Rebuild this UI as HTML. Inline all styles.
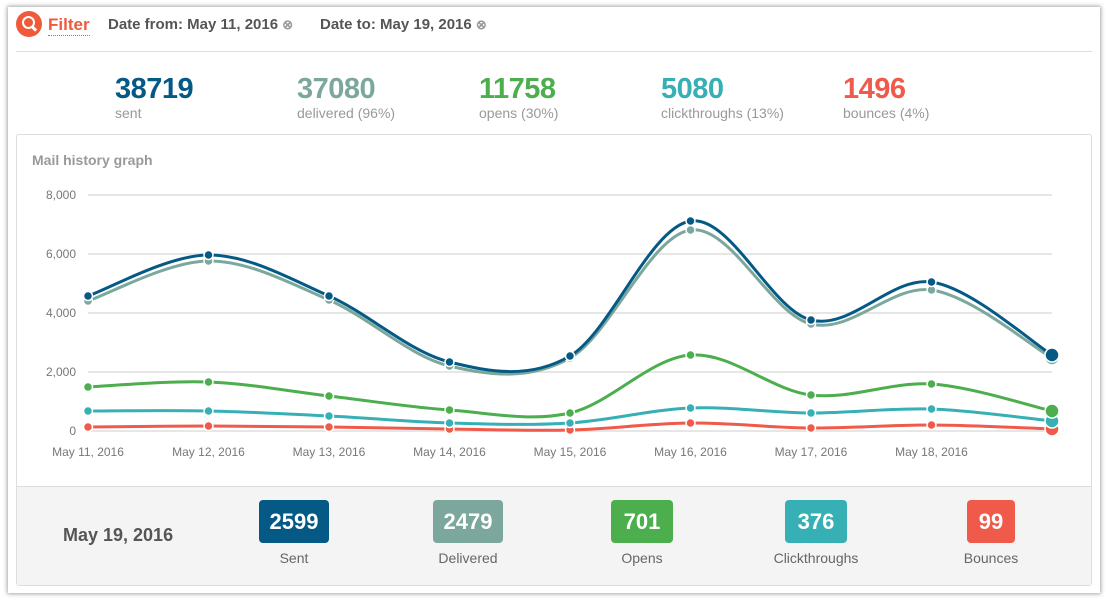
<!DOCTYPE html>
<html><head><meta charset="utf-8"><style>
body{margin:0;width:1108px;height:601px;background:#fff;font-family:"Liberation Sans",sans-serif;position:relative;overflow:hidden}
.card{position:absolute;left:8px;top:7px;width:1092px;height:586px;background:#fff;box-shadow:0 0 4px 1px rgba(0,0,0,.35)}
.abs{position:absolute;white-space:nowrap}
.num{font-size:29px;font-weight:bold;letter-spacing:-0.5px}
.lbl{font-size:14px;color:#999}
.badge{position:absolute;top:500px;width:70px;height:43px;border-radius:4px;color:#fff;font-weight:bold;font-size:22px;text-align:center;line-height:43px}
.blbl{position:absolute;top:550px;width:140px;text-align:center;font-size:14px;color:#666}
</style></head><body>
<div class="card"></div>
<div class="abs" style="left:16px;top:11px;width:26px;height:26px;border-radius:50%;background:#f05a3a"></div>
<div class="abs" style="left:22px;top:16px;width:9px;height:9px;border:2.5px solid #fff;border-radius:50%"></div>
<div class="abs" style="left:31px;top:27px;width:6px;height:3px;background:#fff;transform:rotate(45deg)"></div>
<div class="abs" style="left:48px;top:15px;font-size:17px;font-weight:bold;color:#f05a3a;border-bottom:1px dotted #f05a3a;line-height:20px">Filter</div>
<div class="abs" style="left:108px;top:16px;font-size:15px;font-weight:bold;color:#555">Date from: May 11, 2016 <span style="color:#999;font-size:13px">⊗</span></div>
<div class="abs" style="left:320px;top:16px;font-size:15px;font-weight:bold;color:#555">Date to: May 19, 2016 <span style="color:#999;font-size:13px">⊗</span></div>
<div class="abs" style="left:16px;top:51px;width:1076px;height:1px;background:#ddd"></div>

<div class="abs num" style="left:115px;top:73px;color:#045a85">38719</div>
<div class="abs lbl" style="left:115px;top:105px">sent</div>
<div class="abs num" style="left:297px;top:73px;color:#7ba79d">37080</div>
<div class="abs lbl" style="left:297px;top:105px">delivered (96%)</div>
<div class="abs num" style="left:479px;top:73px;color:#4cae4c">11758</div>
<div class="abs lbl" style="left:479px;top:105px">opens (30%)</div>
<div class="abs num" style="left:661px;top:73px;color:#36b0b4">5080</div>
<div class="abs lbl" style="left:661px;top:105px">clickthroughs (13%)</div>
<div class="abs num" style="left:843px;top:73px;color:#f05a4a">1496</div>
<div class="abs lbl" style="left:843px;top:105px">bounces (4%)</div>

<div class="abs" style="left:16px;top:134px;width:1074px;height:450px;border:1px solid #ddd;border-radius:3px;background:#fff"></div>
<div class="abs" style="left:17px;top:486px;width:1074px;height:98px;background:#f4f4f4;border-top:1px solid #ddd"></div>
<div class="abs" style="left:32px;top:152px;font-size:14px;font-weight:bold;color:#999">Mail history graph</div>

<svg class="abs" style="left:0;top:0" width="1108" height="601" id="s"></svg>

<div class="abs" style="left:63px;top:525px;font-size:18px;font-weight:bold;color:#555">May 19, 2016</div>
<div class="badge" style="left:259px;background:#045a85">2599</div><div class="blbl" style="left:224px">Sent</div>
<div class="badge" style="left:433px;background:#7ba79d">2479</div><div class="blbl" style="left:398px">Delivered</div>
<div class="badge" style="left:611px;width:62px;background:#4cae4c">701</div><div class="blbl" style="left:572px">Opens</div>
<div class="badge" style="left:785px;width:62px;background:#36b0b4">376</div><div class="blbl" style="left:746px">Clickthroughs</div>
<div class="badge" style="left:967px;width:48px;background:#f05a4a">99</div><div class="blbl" style="left:921px">Bounces</div>

<script>
var s=document.getElementById('s'),h='';
[[195,'8,000'],[254,'6,000'],[313,'4,000'],[372,'2,000'],[431,'0']].forEach(function(g){
h+='<line x1="88" x2="1052" y1="'+g[0]+'" y2="'+g[0]+'" stroke="#e6e6e6" stroke-width="2"/>';
h+='<text x="76" y="'+(g[0]+4)+'" text-anchor="end" font-size="12" fill="#777" font-family="Liberation Sans">'+g[1]+'</text>';});
var X=[];for(var i=0;i<9;i++)X.push(88+i*120.5);
['May 11, 2016','May 12, 2016','May 13, 2016','May 14, 2016','May 15, 2016','May 16, 2016','May 17, 2016','May 18, 2016'].forEach(function(t,i){
h+='<text x="'+X[i]+'" y="456" text-anchor="middle" font-size="12" fill="#777" font-family="Liberation Sans">'+t+'</text>';});
var S=[
['#f05a4a',[427,426,427,429,430,423,428,425,429]],
['#36b0b4',[411,411,416,423,423,408,413,409,421]],
['#4cae4c',[387,382,396,410,413,355,395,384,411]],
['#7ba79d',[301,261,300,366,358,230,324,290,358]],
['#045a85',[296,255,296,362,356,221,320,282,355]]];
S.forEach(function(r){var c=r[0],Y=r[1],d='M'+X[0]+','+Y[0];
for(var i=0;i<8;i++){var p0=i?i-1:i,p3=i<7?i+2:i+1;
var c1x=X[i]+(X[i+1]-X[p0])/6,c1y=Y[i]+(Y[i+1]-Y[p0])/6,c2x=X[i+1]-(X[p3]-X[i])/6,c2y=Y[i+1]-(Y[p3]-Y[i])/6;
d+=' C'+c1x+','+c1y+' '+c2x+','+c2y+' '+X[i+1]+','+Y[i+1];}
h+='<path d="'+d+'" fill="none" stroke="'+c+'" stroke-width="3"/>';
for(var i=0;i<9;i++)h+='<circle cx="'+X[i]+'" cy="'+Y[i]+'" r="'+(i==8?7:4.5)+'" fill="'+c+'" stroke="#fff" stroke-width="1.5"/>';});
s.innerHTML=h;
</script>
</body></html>
